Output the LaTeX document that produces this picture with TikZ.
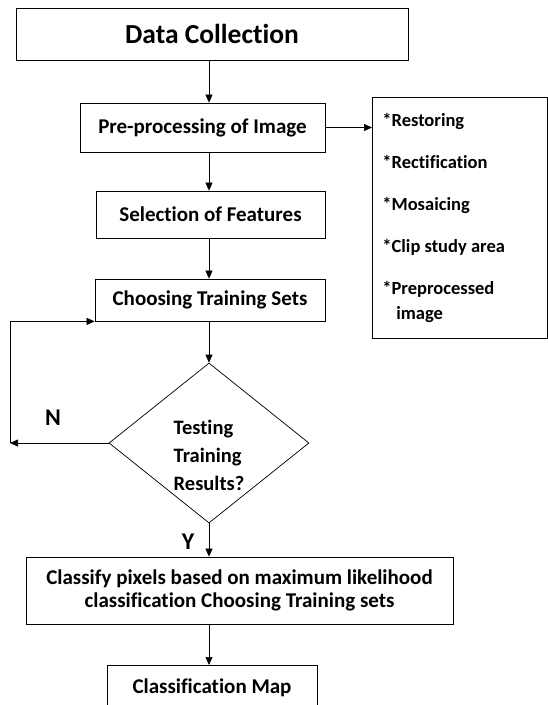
\documentclass[tikz,border=0pt]{standalone}
\usepackage{fontspec}
\setmainfont[Ligatures={NoCommon}]{Carlito}
\usetikzlibrary{arrows.meta, shapes.geometric}
\begin{document}
\begin{tikzpicture}[x=1pt, y=-1pt, font=\bfseries\fontsize{21}{23}\selectfont,
        arr/.style={-{Triangle[length=8pt, width=7pt]}, line width=0.7pt},
        stepbox/.style={rectangle, draw, line width=0.8pt, inner sep=0pt},
        decision/.style={diamond, draw, line width=0.7pt, inner sep=0pt,
            minimum width=200pt, minimum height=160pt},
        listbox/.style={rectangle, draw, line width=0.8pt, anchor=north west,
            minimum width=175pt, minimum height=241pt, inner xsep=10pt,
            text width=155pt, align=flush left, font=\bfseries\fontsize{18.5}{22}\selectfont},
        yn/.style={font=\bfseries\fontsize{24}{26}\selectfont}]
        \useasboundingbox (0,0) rectangle (547,705);
        % ---- main column ----
        \node[stepbox, minimum width=392pt, minimum height=52pt,
            font=\bfseries\fontsize{27.5}{30}\selectfont] (data) at (212,34) {Data Collection};
        \node[stepbox, minimum width=245pt, minimum height=49pt] (pre) at (202.5,127.5) {Pre-processing of Image};
        \node[stepbox, minimum width=229pt, minimum height=47pt] (sel) at (210.5,214.5) {Selection of Features};
        \node[stepbox, minimum width=230pt, minimum height=42pt] (choose) at (210,300) {Choosing Training Sets};
        \node[decision, label={[yshift=-12pt, align=left, font=\bfseries\fontsize{20.5}{28}\selectfont]center:Testing\\Training\\Results?}] (test) at (209,443) {};
        \node[stepbox, minimum width=427pt, minimum height=67pt, align=center] (classify) at (239.5,590.5)
            {Classify pixels based on maximum likelihood\\classification Choosing Training sets};
        \node[stepbox, minimum width=210pt, minimum height=60pt, anchor=north] (map) at (212,665) {};
        \node (mapt) at (212,688) {Classification Map};
        % ---- side list ----
        \node[listbox] (steps) at (372,97)
            {*Restoring\\[20pt]*Rectification\\[20pt]*Mosaicing\\[20pt]*Clip study area\\[20pt]*Preprocessed\\[3pt]\hspace*{14pt}image};
        % ---- labels ----
        \node[yn] (nlab) at (53,418) {N};
        \node[yn] (ylab) at (188,542) {Y};
        % ---- connectors ----
        \coordinate (col) at (209,0);
        \coordinate (nturn) at (10,443);
        \draw[arr] (data.south -| col) -- (pre.north -| col);
        \draw[arr] (pre.south -| col) -- (sel.north -| col);
        \draw[arr] (sel.south -| col) -- (choose.north -| col);
        \draw[arr] (choose.south -| col) -- (test.north);
        \draw[arr] (test.south) -- (classify.north -| test.south);
        \draw[arr] (classify.south -| col) -- (map.north -| col);
        \draw[arr] (pre.east) -- (pre.east -| steps.west);
        \draw[arr] (test.west) -- (nturn);
        \draw[arr] (nturn) |- (choose.south west);
\end{tikzpicture}
\end{document}
